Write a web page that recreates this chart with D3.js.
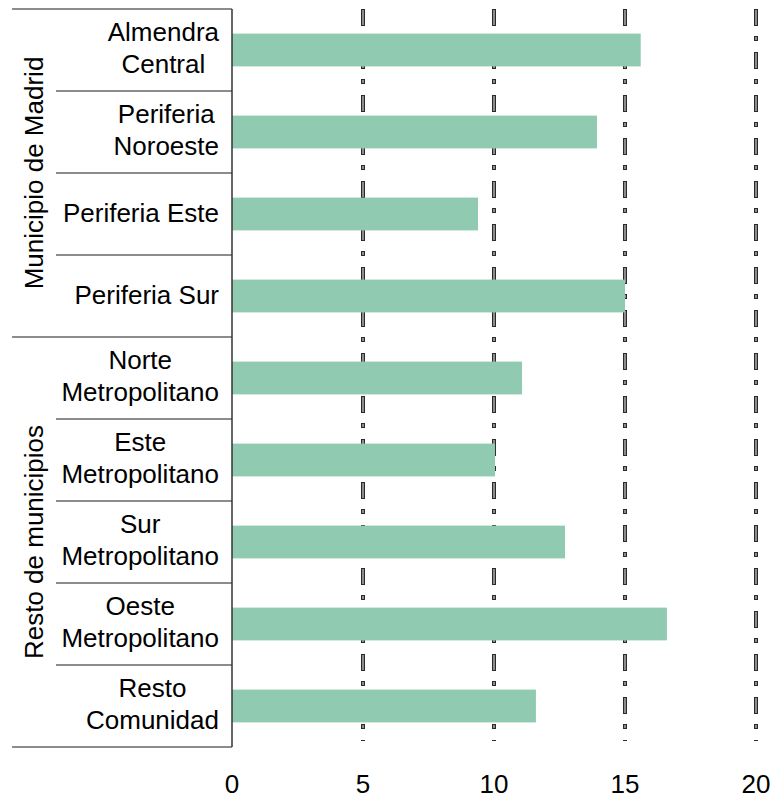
<!DOCTYPE html>
<html>
<head>
<meta charset="utf-8">
<script src="https://cdn.jsdelivr.net/npm/d3@7"></script>
<style>
  body { margin: 0; background: #fff; }
  text { font-family: Arial, "Liberation Sans", sans-serif; fill: #000; }
</style>
</head>
<body>
<div id="chart"></div>
<script>
// data
let categories = [
  ['Almendra', 'Central'],
  ['Periferia', 'Noroeste'],
  ['Periferia Este'],
  ['Periferia Sur'],
  ['Norte', 'Metropolitano'],
  ['Este', 'Metropolitano'],
  ['Sur', 'Metropolitano'],
  ['Oeste', 'Metropolitano'],
  ['Resto', 'Comunidad']
]
let values = [15.6, 13.93, 9.39, 15.0, 11.07, 10.04, 12.71, 16.6, 11.6]
let groups = ['Municipio de Madrid', 'Resto de municipios']
let groupSizes = [4, 5]
let xTicks = [0, 5, 10, 15, 20]

let width = 773, height = 800
let margin = { top: 9, left: 232, right: 17, bottom: 53 }
let fontSize = 26

let svg = d3.select('#chart')
  .append('svg')
  .attr('width', width)
  .attr('height', height)

let ids = categories.map(function(c, i) { return i })

let x = d3.scaleLinear()
  .domain([0, 20])
  .range([margin.left, width - margin.right])

let y = d3.scaleBand()
  .domain(ids)
  .range([margin.top, height - margin.bottom])
  .paddingInner(0.6)
  .paddingOuter(0.3)

let step = y.step()
let plotTop = margin.top, plotBottom = height - margin.bottom

// band edges (no padding) for separator lines
function bandTop(i) { return plotTop + i * step }

// gridlines, dash-dot, outlined look
let grid = svg.append('g').attr('class', 'grid')
xTicks.filter(function(t) { return t > 0 }).forEach(function(t) {
  grid.append('line')
    .attr('x1', x(t)).attr('x2', x(t))
    .attr('y1', plotTop).attr('y2', plotBottom - 6)
    .attr('stroke', '#2a2a2a')
    .attr('stroke-width', 4)
    .attr('stroke-dasharray', '17,10,5,11')
  grid.append('line')
    .attr('x1', x(t)).attr('x2', x(t))
    .attr('y1', plotTop + 1).attr('y2', plotBottom - 6)
    .attr('stroke', '#8c8c8c')
    .attr('stroke-width', 2)
    .attr('stroke-dasharray', '15,12,3,13')
})

// bars
svg.append('g')
  .selectAll('rect')
  .data(values)
  .enter()
  .append('rect')
  .attr('x', x(0))
  .attr('y', function(d, i) { return y(i) })
  .attr('width', function(d) { return x(d) - x(0) })
  .attr('height', y.bandwidth())
  .attr('fill', '#90cab1')

// separator lines
let sep = svg.append('g').attr('stroke', '#1a1a1a').attr('stroke-width', 1.2)
let groupStarts = [0]
groupSizes.forEach(function(s, i) { groupStarts.push(groupStarts[i] + s) })
for (let i = 0; i <= categories.length; i++) {
  let isGroup = groupStarts.indexOf(i) >= 0
  sep.append('line')
    .attr('x1', isGroup ? 12 : 56)
    .attr('x2', x(0))
    .attr('y1', bandTop(i)).attr('y2', bandTop(i))
}

// axis line
svg.append('line')
  .attr('x1', x(0)).attr('x2', x(0))
  .attr('y1', plotTop).attr('y2', plotBottom)
  .attr('stroke', '#333')
  .attr('stroke-width', 1.5)

// category labels: block right aligned, lines centered within block
let labelRight = 219
categories.forEach(function(lines, i) {
  let cy = bandTop(i) + step / 2
  let g = svg.append('g')
  let texts = lines.map(function(l) {
    return g.append('text').attr('font-size', fontSize).text(l)
  })
  let maxW = d3.max(texts, function(t) { return t.node().getComputedTextLength() })
  let cx = labelRight - maxW / 2
  texts.forEach(function(t, k) {
    let base = lines.length === 1 ? cy + 8 : cy - 9 + k * 32
    t.attr('x', cx).attr('y', base).attr('text-anchor', 'middle')
  })
})

// group labels
groups.forEach(function(gname, i) {
  let y0 = bandTop(groupStarts[i]), y1 = bandTop(groupStarts[i + 1])
  let cy = (y0 + y1) / 2
  svg.append('text')
    .attr('font-size', fontSize)
    .attr('text-anchor', 'middle')
    .attr('transform', 'translate(43,' + cy + ') rotate(-90)')
    .text(gname)
})

// x tick labels
svg.append('g')
  .selectAll('text')
  .data(xTicks)
  .enter()
  .append('text')
  .attr('x', function(d) { return x(d) })
  .attr('y', 793)
  .attr('text-anchor', 'middle')
  .attr('font-size', fontSize)
  .text(function(d) { return d })
</script>
</body>
</html>
